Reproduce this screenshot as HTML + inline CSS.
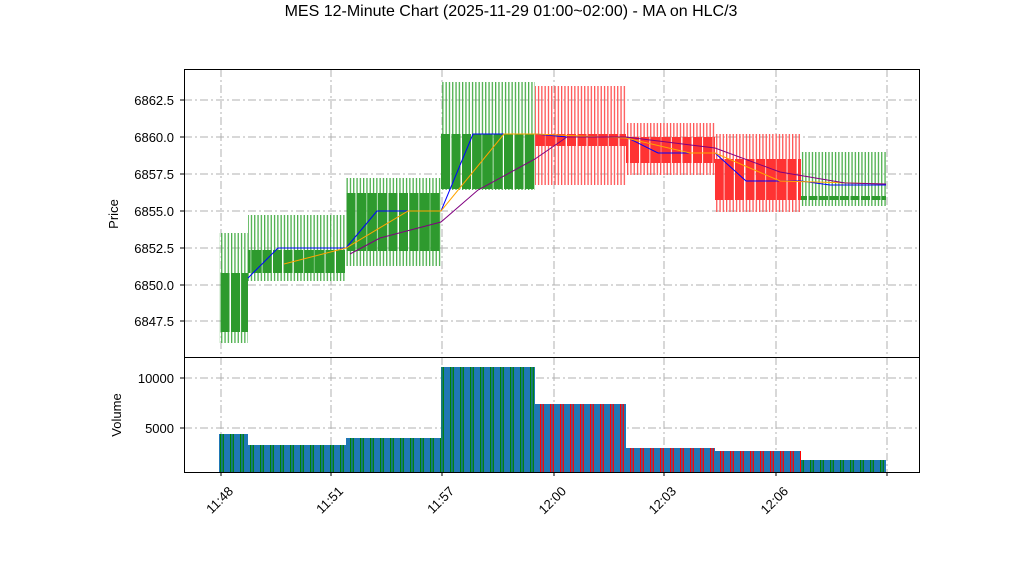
<!DOCTYPE html>
<html><head><meta charset="utf-8"><style>body{margin:0;background:#fff}svg{display:block;font-family:"Liberation Sans",sans-serif}</style></head><body>
<svg width="1022" height="575" xmlns="http://www.w3.org/2000/svg">
<defs>
<pattern id="wg" width="3.3" height="10" patternUnits="userSpaceOnUse"><rect width="1.3" height="10" fill="#4caf4c"/></pattern>
<pattern id="wr" width="3.3" height="10" patternUnits="userSpaceOnUse"><rect width="1.3" height="10" fill="#ff5555"/></pattern>
<pattern id="bg" width="10.5" height="10" patternUnits="userSpaceOnUse"><rect width="9" height="10" fill="#2e9a2e"/></pattern>
<pattern id="br" width="10.5" height="10" patternUnits="userSpaceOnUse"><rect width="9" height="10" fill="#ff3333"/></pattern>
<pattern id="vg" width="10" height="10" patternUnits="userSpaceOnUse"><rect width="10" height="10" fill="#1f77b4"/><rect x="0" width="1.3" height="10" fill="#008000"/><rect x="2.6" width="1.3" height="10" fill="#008000"/></pattern>
<pattern id="vr" width="10" height="10" patternUnits="userSpaceOnUse"><rect width="10" height="10" fill="#1f77b4"/><rect x="0" width="1.3" height="10" fill="#ff0000"/><rect x="2.6" width="1.3" height="10" fill="#ff0000"/></pattern>
</defs>
<text x="511" y="16" font-size="16" text-anchor="middle">MES 12-Minute Chart (2025-11-29 01:00~02:00) - MA on HLC/3</text>
<g stroke="#b0b0b0" stroke-dasharray="8,3,2,3" stroke-width="1">
<line x1="184" x2="920" y1="100" y2="100"/><line x1="184" x2="920" y1="137" y2="137"/><line x1="184" x2="920" y1="174" y2="174"/><line x1="184" x2="920" y1="211" y2="211"/><line x1="184" x2="920" y1="248" y2="248"/><line x1="184" x2="920" y1="285" y2="285"/><line x1="184" x2="920" y1="321" y2="321"/>
<line x1="184" x2="920" y1="378" y2="378"/><line x1="184" x2="920" y1="428" y2="428"/>
<line x1="221" x2="221" y1="69" y2="472"/><line x1="331" x2="331" y1="69" y2="472"/><line x1="442" x2="442" y1="69" y2="472"/><line x1="554" x2="554" y1="69" y2="472"/><line x1="664" x2="664" y1="69" y2="472"/><line x1="776" x2="776" y1="69" y2="472"/><line x1="887" x2="887" y1="69" y2="472"/>
</g>
<rect x="219" y="233" width="29" height="110" fill="url(#wg)"/><rect x="219" y="273" width="29" height="59" fill="url(#bg)"/>
<rect x="248" y="215" width="98" height="66" fill="url(#wg)"/><rect x="248" y="250" width="98" height="23" fill="url(#bg)"/>
<rect x="346" y="178" width="95" height="88" fill="url(#wg)"/><rect x="346" y="193" width="95" height="58" fill="url(#bg)"/>
<rect x="441" y="82" width="94" height="108" fill="url(#wg)"/><rect x="441" y="134" width="94" height="55" fill="url(#bg)"/>
<rect x="535" y="86" width="91" height="99" fill="url(#wr)"/><rect x="535" y="134" width="91" height="12" fill="url(#br)"/>
<rect x="626" y="123" width="89" height="52" fill="url(#wr)"/><rect x="626" y="137" width="89" height="26" fill="url(#br)"/>
<rect x="715" y="134" width="86" height="78" fill="url(#wr)"/><rect x="715" y="159" width="86" height="41" fill="url(#br)"/>
<rect x="801" y="152" width="85" height="54" fill="url(#wg)"/><rect x="801" y="196" width="85" height="4" fill="url(#bg)"/>
<polyline fill="none" stroke="#0000ff" stroke-width="1" points="248,278 278,248 346,248 377,211 441,211 473,134 535,134 567,137 626,137 658,153 715,153 746,181 801,181 830,185 886,185"/>
<polyline fill="none" stroke="#ffa500" stroke-width="1" points="284,264 346,248 408,211 441,211 504,134 535,134 626,138 690,153 715,153 780,181 886,184"/>
<polyline fill="none" stroke="#800080" stroke-width="1" points="350,254 380,238 441,222 478,190 535,159 567,137 626,137 715,148 780,172 845,183 886,184"/>
<rect x="219" y="434" width="29" height="38" fill="url(#vg)"/>
<rect x="248" y="445" width="98" height="27" fill="url(#vg)"/>
<rect x="346" y="438" width="95" height="34" fill="url(#vg)"/>
<rect x="441" y="367" width="94" height="105" fill="url(#vg)"/>
<rect x="535" y="404" width="91" height="68" fill="url(#vr)"/>
<rect x="626" y="448" width="89" height="24" fill="url(#vr)"/>
<rect x="715" y="451" width="86" height="21" fill="url(#vr)"/>
<rect x="801" y="460" width="85" height="12" fill="url(#vg)"/>
<rect x="184.5" y="69.5" width="735" height="288" fill="none" stroke="#000"/>
<rect x="184.5" y="357.5" width="735" height="115" fill="none" stroke="#000"/>
<g font-size="13" text-anchor="end" fill="#000">
<text x="174" y="105">6862.5</text><text x="174" y="142">6860.0</text><text x="174" y="179">6857.5</text><text x="174" y="216">6855.0</text><text x="174" y="253">6852.5</text><text x="174" y="290">6850.0</text><text x="174" y="326">6847.5</text>
<text x="174" y="383">10000</text><text x="174" y="433">5000</text>
</g>
<g stroke="#000"><line x1="180" x2="184" y1="100" y2="100"/><line x1="180" x2="184" y1="137" y2="137"/><line x1="180" x2="184" y1="174" y2="174"/><line x1="180" x2="184" y1="211" y2="211"/><line x1="180" x2="184" y1="248" y2="248"/><line x1="180" x2="184" y1="285" y2="285"/><line x1="180" x2="184" y1="321" y2="321"/><line x1="180" x2="184" y1="378" y2="378"/><line x1="180" x2="184" y1="428" y2="428"/>
<line x1="221" x2="221" y1="472" y2="476"/><line x1="331" x2="331" y1="472" y2="476"/><line x1="442" x2="442" y1="472" y2="476"/><line x1="554" x2="554" y1="472" y2="476"/><line x1="664" x2="664" y1="472" y2="476"/><line x1="776" x2="776" y1="472" y2="476"/><line x1="887" x2="887" y1="472" y2="476"/></g>
<text transform="translate(118,214) rotate(-90)" font-size="13" text-anchor="middle">Price</text>
<text transform="translate(121,415) rotate(-90)" font-size="13" text-anchor="middle">Volume</text>
<g font-size="13" text-anchor="end">
<text transform="translate(234,492) rotate(-45)">11:48</text>
<text transform="translate(344,492) rotate(-45)">11:51</text>
<text transform="translate(455,492) rotate(-45)">11:57</text>
<text transform="translate(567,492) rotate(-45)">12:00</text>
<text transform="translate(677,492) rotate(-45)">12:03</text>
<text transform="translate(789,492) rotate(-45)">12:06</text>
</g>
</svg>
</body></html>
